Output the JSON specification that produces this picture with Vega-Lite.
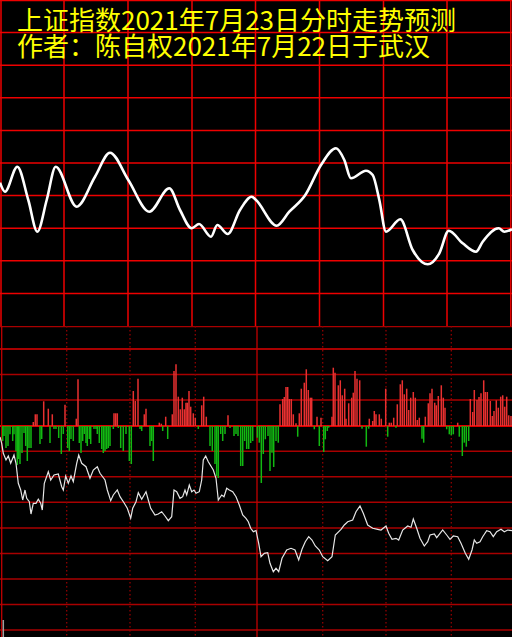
{
  "$schema": "https://vega.github.io/schema/vega-lite/v6.json",
  "background": "#000000",
  "padding": 0,
  "autosize": {"type": "pad"},
  "spacing": 0,
  "title": {
    "text": "上证指数2021年7月23日分时走势预测",
    "subtitle": "作者：陈自权2021年7月22日于武汉",
    "anchor": "start",
    "frame": "group",
    "orient": "top",
    "baseline": "top",
    "offset": -61,
    "dx": 17,
    "font": "Noto Sans CJK SC",
    "fontSize": 26,
    "fontWeight": "normal",
    "color": "#ffff00",
    "subtitleFont": "Noto Sans CJK SC",
    "subtitleFontSize": 26,
    "subtitleColor": "#ffff00",
    "subtitlePadding": 0
  },
  "datasets": {
    "upperv": [{"x":1},{"x":64},{"x":128},{"x":192},{"x":255.5},{"x":319.5},{"x":383.5},{"x":447},{"x":510.8}],
    "upperh": [{"v":325.5},{"v":293.4},{"v":260.8},{"v":228.2},{"v":195.6},{"v":163},{"v":130.4},{"v":97.8},{"v":65.2},{"v":32.6}],
    "lowerv": [{"x":1.7},{"x":66.7},{"x":130},{"x":195.3},{"x":257},{"x":322.7},{"x":386},{"x":451.3}],
    "lowerh": [{"v":99.5},{"v":77},{"v":51.5},{"v":25.9},{"v":0},{"v":-25.2},{"v":-50.7},{"v":-76.3},{"v":-101.9},{"v":-127.4},{"v":-153},{"v":-178.5},{"v":-204.1}],
    "marker": [{"x":3.3,"v":-194,"v2":-211}],
    "upper": [
      {"x":0,"v":143.3},{"x":5,"v":134.3},{"x":17.3,"v":159.3},{"x":28.3,"v":126},{"x":37.3,"v":94.3},{"x":46.7,"v":126},{"x":55.7,"v":159.3},{"x":76.7,"v":119.3},{"x":95,"v":149.3},{"x":110,"v":173.3},{"x":128.3,"v":146},{"x":149.3,"v":114.3},{"x":169.3,"v":137.7},{"x":180,"v":116},{"x":191.7,"v":97.7},{"x":199,"v":102},{"x":211,"v":89.3},{"x":217.3,"v":101},{"x":227.7,"v":92},{"x":240,"v":116},{"x":251.7,"v":129.3},{"x":256,"v":126},{"x":276.7,"v":100.3},{"x":289.3,"v":114.3},{"x":305.3,"v":131},{"x":321,"v":161},{"x":336,"v":177.7},{"x":344.3,"v":166},{"x":351,"v":147.7},{"x":366,"v":155.3},{"x":372.7,"v":151},{"x":379.3,"v":126},{"x":386,"v":94.3},{"x":400.3,"v":106.7},{"x":412.7,"v":76},{"x":427.7,"v":61.7},{"x":439.3,"v":72.7},{"x":448.7,"v":95.3},{"x":462.7,"v":82.7},{"x":476,"v":74.3},{"x":482.7,"v":84.3},{"x":498.7,"v":97.7},{"x":504.3,"v":94.3},{"x":512,"v":96.7}
    ],
    "bars": [
      {"x":33.3,"v":4},{"x":35.3,"v":11.7},{"x":37,"v":11.7},{"x":43.7,"v":24.7},{"x":48.3,"v":17.3},{"x":52.3,"v":11.7},{"x":65,"v":21.3},{"x":76.3,"v":7.3},{"x":78,"v":46.7},{"x":114,"v":12.7},{"x":115.7,"v":12.7},{"x":117.3,"v":12.7},{"x":133.3,"v":35},{"x":135.3,"v":25},{"x":138,"v":47.3},{"x":144.3,"v":11.7},{"x":146,"v":17.3},{"x":159.3,"v":3.3},{"x":161.3,"v":2.3},{"x":165.7,"v":9.3},{"x":172.3,"v":11.7},{"x":174,"v":55},{"x":176,"v":61.7},{"x":178.3,"v":29.3},{"x":180.3,"v":16.7},{"x":182.3,"v":28.3},{"x":184.3,"v":16.7},{"x":186,"v":23.3},{"x":187.3,"v":23.3},{"x":189,"v":35},{"x":190.7,"v":19.3},{"x":193.3,"v":12.7},{"x":195.3,"v":8.3},{"x":201.7,"v":20.7},{"x":203.7,"v":29.3},{"x":206.3,"v":9.3},{"x":228,"v":10.7},
      {"x":280,"v":21.7},{"x":282.7,"v":27},{"x":284.3,"v":29},{"x":286,"v":39},{"x":287.7,"v":39},{"x":289.3,"v":27},{"x":291.3,"v":27},{"x":293.3,"v":11.7},{"x":296,"v":2.7},{"x":299.3,"v":12.7},{"x":301.3,"v":37.3},{"x":304.3,"v":43.3},{"x":306.3,"v":56.7},{"x":308.3,"v":36},{"x":310.3,"v":28.3},{"x":311.7,"v":28.3},{"x":317,"v":9.3},{"x":321,"v":8.3},{"x":332,"v":9.3},{"x":333.3,"v":58.3},{"x":335,"v":53.3},{"x":338.3,"v":40.7},{"x":340.3,"v":45.7},{"x":342.3,"v":30.7},{"x":344.7,"v":37.3},{"x":346,"v":7.3},{"x":348.7,"v":22.7},{"x":351.7,"v":28.3},{"x":353.3,"v":33.3},{"x":355,"v":55},{"x":357,"v":47.3},{"x":359.7,"v":45.7},{"x":369.3,"v":7.3},{"x":372.7,"v":5},{"x":374.3,"v":15},{"x":376,"v":11.7},{"x":379.3,"v":11.7},{"x":381.3,"v":7.3},{"x":385.7,"v":37.3},{"x":389.3,"v":3.3},{"x":391.3,"v":3.3},{"x":393.7,"v":8.3},{"x":397.3,"v":21.7},{"x":400.3,"v":41.7},{"x":402.3,"v":45.7},{"x":404.3,"v":31.7},{"x":406.7,"v":37.3},{"x":408.7,"v":16},{"x":410.7,"v":28.3},{"x":413.3,"v":34},{"x":415.3,"v":28.3},{"x":417.3,"v":6},{"x":419.3,"v":8.3},{"x":425.3,"v":9.3},{"x":428.3,"v":22.7},{"x":430,"v":32.7},{"x":432,"v":37.3},{"x":434.7,"v":23.3},{"x":436.3,"v":20.7},{"x":438.3,"v":30},{"x":441.3,"v":40.7},{"x":443.3,"v":28.3},{"x":445,"v":18.3},{"x":457.7,"v":3.3},{"x":470.3,"v":27},{"x":472.7,"v":14},{"x":474.3,"v":36},{"x":477,"v":26},{"x":479,"v":29},{"x":481,"v":32.7},{"x":483.7,"v":45.7},{"x":485.3,"v":34},{"x":487.3,"v":34},{"x":490.3,"v":25},{"x":492.3,"v":10},{"x":494,"v":15},{"x":496.3,"v":25.7},{"x":498.3,"v":18.3},{"x":500.7,"v":29.3},{"x":502.7,"v":30.7},{"x":504.7,"v":19.3},{"x":506.7,"v":29.3},{"x":508.7,"v":10.7},{"x":511,"v":10},
      {"x":2.7,"v":-15},{"x":4,"v":-10},{"x":6,"v":-22},{"x":8,"v":-20},{"x":10,"v":-8.3},{"x":12.7,"v":-15},{"x":14,"v":-8.3},{"x":16,"v":-25},{"x":17.3,"v":-39},{"x":18.7,"v":-33},{"x":20,"v":-38},{"x":22,"v":-27},{"x":24,"v":-7},{"x":25.7,"v":-20},{"x":27.3,"v":-35},{"x":29,"v":-22},{"x":31,"v":-22},{"x":40,"v":-18},{"x":41.7,"v":-13},{"x":50,"v":-17},{"x":54,"v":-3},{"x":56,"v":-3},{"x":58.7,"v":-12},{"x":61.3,"v":-28},{"x":63.3,"v":-8},{"x":67.7,"v":-22},{"x":69.3,"v":-25},{"x":71,"v":-13},{"x":73.3,"v":-15},{"x":79.3,"v":-17},{"x":81,"v":-27},{"x":82.7,"v":-15},{"x":84.3,"v":-8},{"x":86,"v":-17},{"x":87.3,"v":-20},{"x":89.3,"v":-13},{"x":90.7,"v":-18},{"x":94,"v":-3},{"x":96,"v":-3},{"x":97.3,"v":-8},{"x":99.3,"v":-17},{"x":101.7,"v":-23},{"x":103.3,"v":-27},{"x":105,"v":-25},{"x":106.7,"v":-23},{"x":108.3,"v":-22},{"x":110,"v":-20},{"x":113.3,"v":-3},{"x":118.3,"v":-2},{"x":120.7,"v":-22},{"x":123.3,"v":-25},{"x":126,"v":-8},{"x":129.3,"v":-35},{"x":131.3,"v":-38},{"x":140,"v":-3},{"x":141.7,"v":-5},{"x":150,"v":-20},{"x":151.7,"v":-15},{"x":153.3,"v":-35},{"x":162.7,"v":-5},{"x":167.7,"v":-13},{"x":198.3,"v":-3},{"x":210,"v":-20},{"x":212.3,"v":-25},{"x":215,"v":-38},{"x":216.7,"v":-50},{"x":218.3,"v":-52},{"x":220.7,"v":-8},{"x":222.7,"v":-15},{"x":225,"v":-8},{"x":230,"v":-2},{"x":234,"v":-10},{"x":236,"v":-8},{"x":238,"v":-10},{"x":240.7,"v":-40},{"x":242.7,"v":-40},{"x":244.7,"v":-15},{"x":246.7,"v":-23},{"x":248.7,"v":-23},{"x":250.7,"v":-17},{"x":252.7,"v":-15},
      {"x":257.3,"v":-11.7},{"x":259.3,"v":-16.7},{"x":261.3,"v":-57},{"x":263.3,"v":-28},{"x":265.3,"v":-13.3},{"x":268,"v":-10},{"x":270,"v":-45},{"x":272,"v":-26.7},{"x":273.7,"v":-41},{"x":276,"v":-15},{"x":278.3,"v":-16.7},{"x":297.7,"v":-10.7},{"x":314.3,"v":-3.3},{"x":319.3,"v":-20},{"x":323.7,"v":-26},{"x":325.3,"v":-13.3},{"x":327.3,"v":-5},{"x":328.7,"v":-1.7},{"x":362,"v":-2.7},{"x":366.3,"v":-20.7},{"x":368.7,"v":-2.7},{"x":387.7,"v":-10.7},{"x":396,"v":-1.7},{"x":422,"v":-12.7},{"x":423.7,"v":-16.7},{"x":446.7,"v":-3.3},{"x":449.3,"v":-8.3},{"x":451.3,"v":-9.3},{"x":453.3,"v":-8.3},{"x":459.3,"v":-10.7},{"x":462.3,"v":-30},{"x":464.3,"v":-16.7},{"x":466.3,"v":-20.7},{"x":468.7,"v":-15}
    ],
    "lower": [
      {"x":0,"v":-11},{"x":1.7,"v":-17.3},{"x":3.3,"v":-27.3},{"x":6,"v":-34},{"x":8.3,"v":-30},{"x":10.7,"v":-37.3},{"x":14,"v":-29},{"x":16,"v":-37.3},{"x":18.3,"v":-57.3},{"x":20.7,"v":-64},{"x":22.7,"v":-74},{"x":25,"v":-64},{"x":26.7,"v":-72.3},{"x":29.3,"v":-75.7},{"x":31,"v":-88},{"x":33.3,"v":-77.3},{"x":36,"v":-77.3},{"x":38.3,"v":-73.3},{"x":40.7,"v":-77.3},{"x":42.3,"v":-84},{"x":44.3,"v":-57.3},{"x":48.3,"v":-45.7},{"x":50.7,"v":-54},{"x":54,"v":-49},{"x":58.3,"v":-48},{"x":61.7,"v":-60.7},{"x":63.3,"v":-64},{"x":65.7,"v":-50},{"x":68.3,"v":-57.3},{"x":71,"v":-50},{"x":73.3,"v":-55.7},{"x":76.7,"v":-37.3},{"x":78.7,"v":-29},{"x":81.7,"v":-37.3},{"x":86,"v":-40.7},{"x":90,"v":-52.3},{"x":93.3,"v":-44},{"x":97.3,"v":-40.7},{"x":100,"v":-47.3},{"x":105,"v":-54},{"x":107.3,"v":-64},{"x":110.7,"v":-74.7},{"x":113.3,"v":-69},{"x":117.3,"v":-64},{"x":120,"v":-70.7},{"x":124,"v":-76.7},{"x":127.3,"v":-82.3},{"x":130.7,"v":-92.3},{"x":132.7,"v":-82.3},{"x":136,"v":-75.7},{"x":138.3,"v":-66.7},{"x":141.7,"v":-73.3},{"x":146,"v":-65.7},{"x":148.3,"v":-74},{"x":150.7,"v":-82.3},{"x":155,"v":-89},{"x":158.3,"v":-88},{"x":161.7,"v":-85.7},{"x":165,"v":-90},{"x":168.3,"v":-94.7},{"x":171.7,"v":-90.7},{"x":174,"v":-64},{"x":176.7,"v":-65.7},{"x":180,"v":-72.3},{"x":182.7,"v":-70.7},{"x":185,"v":-64},{"x":186.7,"v":-69},{"x":189.3,"v":-59},{"x":191.7,"v":-65.7},{"x":194,"v":-64},{"x":196,"v":-67.3},{"x":199.3,"v":-65.7},{"x":201.7,"v":-54},{"x":203.3,"v":-34},{"x":205.7,"v":-30},{"x":208.3,"v":-35.7},{"x":213.3,"v":-44},{"x":216,"v":-52.3},{"x":218.3,"v":-74},{"x":221.7,"v":-69},{"x":224,"v":-70.7},{"x":226.7,"v":-62.3},{"x":229.3,"v":-64},{"x":232.7,"v":-65.7},{"x":236,"v":-70.7},{"x":239.3,"v":-79},{"x":242.7,"v":-89},{"x":246,"v":-92.3},{"x":248.3,"v":-95.7},{"x":250.7,"v":-102.3},{"x":253.3,"v":-105.7},{"x":256,"v":-104.5},{"x":258.7,"v":-117.3},{"x":261,"v":-130.7},{"x":264.3,"v":-127.3},{"x":267.7,"v":-126.7},{"x":270,"v":-137.3},{"x":273.3,"v":-145.7},{"x":276,"v":-142.3},{"x":278.7,"v":-145.7},{"x":282,"v":-132.3},{"x":286.7,"v":-124},{"x":291,"v":-122.3},{"x":295,"v":-124},{"x":298.7,"v":-134},{"x":302,"v":-123.3},{"x":305.3,"v":-115.7},{"x":308.7,"v":-110.7},{"x":312,"v":-114},{"x":315.3,"v":-120},{"x":319.3,"v":-124},{"x":322.7,"v":-130.7},{"x":327.7,"v":-134.7},{"x":332,"v":-130.7},{"x":335.3,"v":-109},{"x":341,"v":-103.3},{"x":344.3,"v":-99},{"x":347.7,"v":-95.7},{"x":352.7,"v":-94},{"x":356,"v":-85.7},{"x":360,"v":-80},{"x":363.3,"v":-87.3},{"x":367.7,"v":-99},{"x":372.7,"v":-102.3},{"x":377.7,"v":-103.3},{"x":381,"v":-104},{"x":386,"v":-100},{"x":388.7,"v":-107.3},{"x":392,"v":-113.3},{"x":396,"v":-112.3},{"x":398.7,"v":-114},{"x":402.7,"v":-104},{"x":407.7,"v":-100},{"x":411,"v":-101.3},{"x":413.3,"v":-93},{"x":416.7,"v":-102.3},{"x":420,"v":-112.3},{"x":424.3,"v":-120},{"x":427.7,"v":-115.7},{"x":430,"v":-109},{"x":434.3,"v":-108},{"x":436.7,"v":-111.7},{"x":442.7,"v":-104},{"x":446.7,"v":-109},{"x":450,"v":-113.3},{"x":453.3,"v":-110},{"x":457.7,"v":-110.7},{"x":461,"v":-117.3},{"x":465.3,"v":-127.3},{"x":468.7,"v":-133.3},{"x":472,"v":-124},{"x":474.3,"v":-114},{"x":476.7,"v":-117.3},{"x":480,"v":-115.7},{"x":482.7,"v":-110.7},{"x":486.7,"v":-104.7},{"x":490,"v":-105.7},{"x":493.3,"v":-110.7},{"x":496.7,"v":-105.7},{"x":501,"v":-103.3},{"x":504.3,"v":-105.7},{"x":507.7,"v":-104},{"x":512,"v":-104.7}
    ]
  },
  "vconcat": [
    {
      "width": 512,
      "height": 326,
      "layer": [
        {
          "data": {"name": "upperh"},
          "mark": {"type": "rule", "color": "#ee0000", "strokeWidth": 1.5, "clip": true},
          "encoding": {
            "y": {"field": "v", "type": "quantitative", "scale": {"domain": [0, 326], "nice": false, "zero": false}, "axis": null}
          }
        },
        {
          "data": {"name": "upperv"},
          "mark": {"type": "rule", "color": "#ee0000", "strokeWidth": 1.5, "clip": true},
          "encoding": {
            "x": {"field": "x", "type": "quantitative", "scale": {"domain": [0, 512], "nice": false, "zero": false}, "axis": null}
          }
        },
        {
          "data": {"name": "upper"},
          "mark": {"type": "line", "color": "#ffffff", "strokeWidth": 2.6, "interpolate": "monotone", "clip": true},
          "encoding": {
            "x": {"field": "x", "type": "quantitative", "scale": {"domain": [0, 512], "nice": false, "zero": false}, "axis": null},
            "y": {"field": "v", "type": "quantitative", "scale": {"domain": [0, 326], "nice": false, "zero": false}, "axis": null}
          }
        }
      ]
    },
    {
      "width": 512,
      "height": 311,
      "layer": [
        {
          "data": {"name": "lowerh"},
          "mark": {"type": "rule", "clip": true},
          "encoding": {
            "y": {"field": "v", "type": "quantitative", "scale": {"domain": [-211, 100], "nice": false, "zero": false}, "axis": null},
            "color": {"condition": {"test": "datum.v === 0 || datum.v === 77", "value": "#e00000"}, "value": "#a80000"},
            "strokeWidth": {"condition": {"test": "datum.v === 0", "value": 2}, "value": 1.5}
          }
        },
        {
          "data": {"name": "lowerv"},
          "mark": {"type": "rule", "strokeWidth": 1.3, "clip": true},
          "encoding": {
            "x": {"field": "x", "type": "quantitative", "scale": {"domain": [0, 512], "nice": false, "zero": false}, "axis": null},
            "color": {"condition": {"test": "datum.x === 1.7 || datum.x === 257", "value": "#c00000"}, "value": "#900000"},
            "strokeDash": {"condition": {"test": "datum.x === 1.7 || datum.x === 257", "value": [1, 0]}, "value": [1.5, 2.5]}
          }
        },
        {
          "data": {"name": "bars"},
          "mark": {"type": "rule", "strokeWidth": 1.5, "clip": true},
          "encoding": {
            "x": {"field": "x", "type": "quantitative", "scale": {"domain": [0, 512], "nice": false, "zero": false}, "axis": null},
            "y": {"field": "v", "type": "quantitative", "scale": {"domain": [-211, 100], "nice": false, "zero": false}, "axis": null},
            "y2": {"datum": 0},
            "color": {"condition": {"test": "datum.v > 0", "value": "#e83030"}, "value": "#12b812"}
          }
        },
        {
          "data": {"name": "lower"},
          "mark": {"type": "line", "color": "#e6e6e6", "strokeWidth": 1.2, "interpolate": "linear", "clip": true},
          "encoding": {
            "x": {"field": "x", "type": "quantitative", "scale": {"domain": [0, 512], "nice": false, "zero": false}, "axis": null},
            "y": {"field": "v", "type": "quantitative", "scale": {"domain": [-211, 100], "nice": false, "zero": false}, "axis": null}
          }
        },
        {
          "data": {"name": "marker"},
          "mark": {"type": "rule", "color": "#a0a0a0", "strokeWidth": 1.5, "clip": true},
          "encoding": {
            "x": {"field": "x", "type": "quantitative", "scale": {"domain": [0, 512], "nice": false, "zero": false}, "axis": null},
            "y": {"field": "v", "type": "quantitative", "scale": {"domain": [-211, 100], "nice": false, "zero": false}, "axis": null},
            "y2": {"field": "v2"}
          }
        }
      ]
    }
  ],
  "config": {
    "view": {"stroke": null},
    "concat": {"spacing": 0}
  }
}
